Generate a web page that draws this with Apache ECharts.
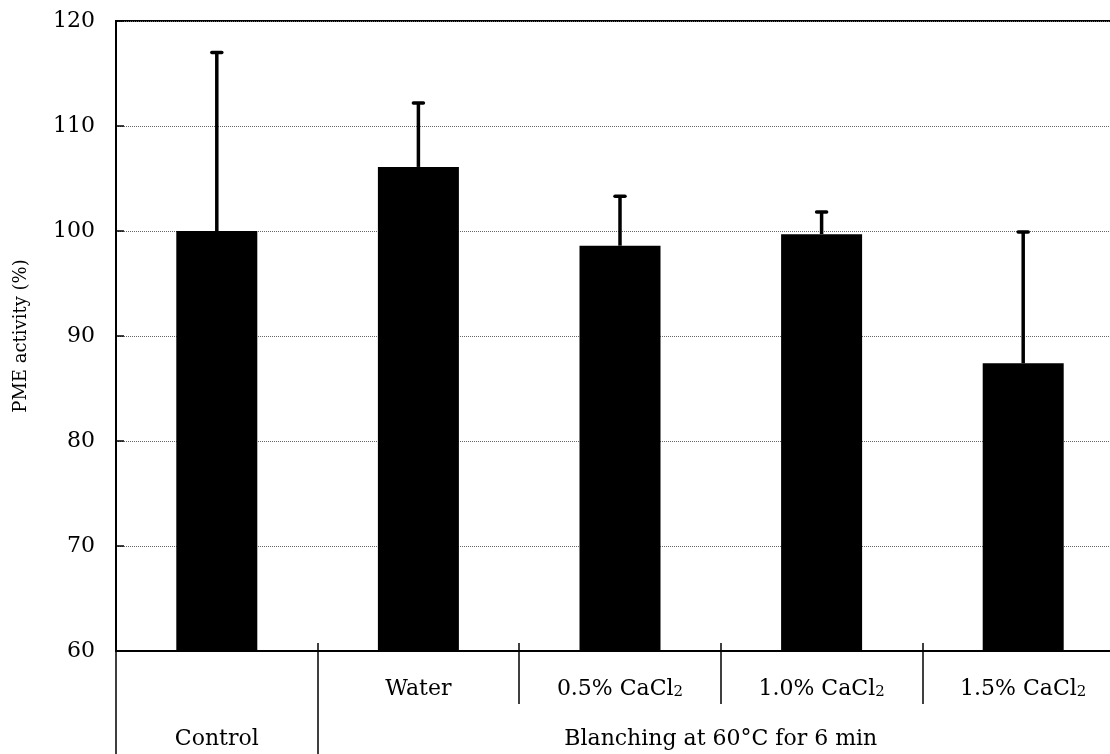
<!DOCTYPE html>
<html>
<head>
<meta charset="utf-8">
<script src="https://cdn.jsdelivr.net/npm/echarts@6/dist/echarts.min.js"></script>
<style>
  html, body { margin: 0; padding: 0; background: #fff; }
  #chart { width: 1110px; height: 754px; }
</style>
</head>
<body>
<div id="chart"></div>
<script>
// Treatment categories (first row of the category axis)
const categories = ['Control', 'Water', '0.5% CaCl2', '1.0% CaCl2', '1.5% CaCl2'];
const rowOneLabels = ['', 'Water', '0.5% CaCl{sub|2}', '1.0% CaCl{sub|2}', '1.5% CaCl{sub|2}'];
// Group captions (second row), placed at group centres on a 0..5 slot scale
const groupCenters = [0.5, 3];
const groupLabels = ['Control', 'Blanching at 60°C for 6 min'];
// Mean PME activity (%) and upper error (SD)
const meanActivity = [100.0, 106.1, 98.6, 99.7, 87.4];
const stdDev = [17.0, 6.1, 4.7, 2.1, 12.5];
// Value axis ticks
const yTicks = [60, 70, 80, 90, 100, 110, 120];

const FONT = 'DejaVu Serif';
const chart = echarts.init(document.getElementById('chart'));

const errorData = meanActivity.map((m, i) => [i, m, m + stdDev[i]]);

chart.setOption({
  backgroundColor: '#fff',
  animation: false,
  grid: {
    left: 116, top: 21, width: 1008, height: 630,
    outerBoundsMode: 'none',
    containLabel: false,
    show: true, borderColor: '#000', borderWidth: 2, backgroundColor: 'transparent'
  },
  xAxis: [
    {
      type: 'category',
      data: categories,
      boundaryGap: true,
      axisLine: { lineStyle: { color: '#000', width: 2 } },
      axisTick: { show: true, interval: 0, length: 53, lineStyle: { color: '#000', width: 1.5 } },
      axisLabel: {
        interval: 0,
        margin: 27,
        color: '#000',
        fontFamily: FONT,
        fontSize: 22,
        formatter: (v, i) => rowOneLabels[i],
        rich: {
          sub: { fontFamily: FONT, fontSize: 15, color: '#000', verticalAlign: 'bottom' }
        }
      },
      splitLine: { show: false }
    },
    {
      type: 'value',
      min: 0, max: 5,
      position: 'bottom',
      axisLine: { show: false },
      splitLine: { show: false },
      axisTick: { show: true, customValues: [0, 1], length: 103, lineStyle: { color: '#000', width: 1.5 } },
      axisLabel: {
        customValues: groupCenters,
        margin: 77,
        color: '#000',
        fontFamily: FONT,
        fontSize: 22,
        formatter: (v) => groupLabels[groupCenters.indexOf(v)]
      }
    },
    {
      type: 'value',
      min: 0, max: 5,
      position: 'bottom',
      axisLine: { show: false },
      splitLine: { show: false },
      axisTick: { show: true, inside: true, customValues: [1, 2, 3, 4], length: 8, lineStyle: { color: '#000', width: 1.5 } },
      axisLabel: { show: false }
    }
  ],
  yAxis: {
    type: 'value',
    min: yTicks[0],
    max: yTicks[yTicks.length - 1],
    interval: 10,
    name: 'PME activity (%)',
    nameLocation: 'middle',
    nameGap: 86,
    nameTextStyle: { color: '#000', fontFamily: FONT, fontSize: 18 },
    axisLine: { show: true, lineStyle: { color: '#000', width: 2 } },
    axisTick: { show: true, inside: true, length: 8, lineStyle: { color: '#000', width: 1.5 } },
    axisLabel: { margin: 21, color: '#000', fontFamily: FONT, fontSize: 22 },
    splitLine: { show: true, lineStyle: { color: '#666', width: 1, type: 'dotted' } }
  },
  series: [
    {
      type: 'bar',
      xAxisIndex: 0,
      data: meanActivity,
      barWidth: 81,
      itemStyle: { color: '#000' }
    },
    {
      type: 'custom',
      xAxisIndex: 0,
      data: errorData,
      z: 3,
      renderItem: (params, api) => {
        const base = api.coord([api.value(0), api.value(1)]);
        const top = api.coord([api.value(0), api.value(2)]);
        const x = base[0];
        return {
          type: 'group',
          children: [
            { type: 'line', shape: { x1: x, y1: base[1], x2: x, y2: top[1] },
              style: { stroke: '#000', lineWidth: 3.5 } },
            { type: 'line', shape: { x1: x - 5, y1: top[1], x2: x + 5, y2: top[1] },
              style: { stroke: '#000', lineWidth: 3.5, lineCap: 'round' } }
          ]
        };
      }
    }
  ]
});
</script>
</body>
</html>
